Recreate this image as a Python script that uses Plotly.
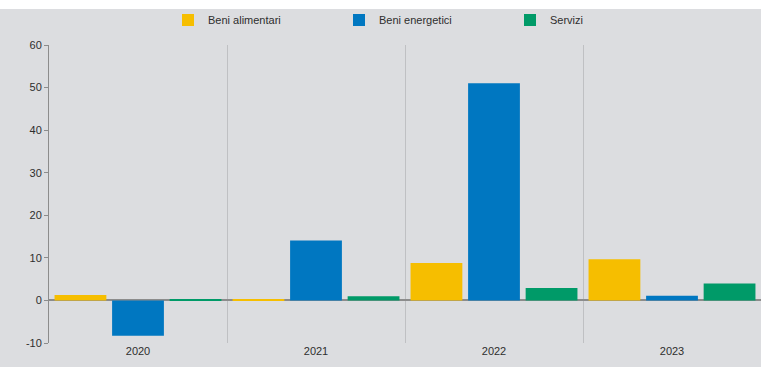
import plotly.graph_objects as go

years = ["2020", "2021", "2022", "2023"]
beni_alimentari = [1.3, 0.3, 8.8, 9.7]
beni_energetici = [-8.3, 14.1, 51.0, 1.1]
servizi = [0.2, 1.0, 2.9, 4.0]
y_ticks = [-10, 0, 10, 20, 30, 40, 50, 60]
y_tick_labels = ["-10", "0", "10", "20", "30", "40", "50", "60"]

series = [
    ("Beni alimentari", beni_alimentari, "#F6BE00"),
    ("Beni energetici", beni_energetici, "#0077C1"),
    ("Servizi", servizi, "#009A68"),
]

W, H = 761, 367
fig = go.Figure()
for name, vals, col in series:
    fig.add_trace(go.Bar(x=years, y=vals, name=name, marker=dict(color=col, line=dict(width=0))))

bg = "#DCDDE0"
fig.update_layout(
    width=W, height=H,
    margin=dict(l=49, r=0, t=45, b=24),
    paper_bgcolor=bg, plot_bgcolor=bg,
    font=dict(family="Liberation Sans, Arial, sans-serif", size=11, color="#2E2E2E"),
    barmode="group", bargap=0.03, bargroupgap=0.1,
    showlegend=True,
    legend=dict(orientation="h", xref="container", yref="container",
                x=168 / W, y=1 - 20 / H, xanchor="left", yanchor="middle",
                entrywidth=126, entrywidthmode="pixels", itemwidth=30,
                bgcolor="rgba(0,0,0,0)", font=dict(size=11, color="#2E2E2E"),
                traceorder="normal"),
    shapes=[dict(type="rect", xref="paper", yref="paper", x0=-0.1, x1=1.1,
                 y0=1 + 36 / 298, y1=1.2, fillcolor="white", line=dict(width=0), layer="below")],
)
fig.update_xaxes(type="category", tickson="boundaries", showgrid=True, gridcolor="#BFC0C3",
                 gridwidth=1, ticks="", showline=False, zeroline=False,
                 tickfont=dict(size=11, color="#2E2E2E"))
fig.update_yaxes(range=[-10, 60], tickvals=y_ticks, ticktext=y_tick_labels, showgrid=False,
                 showline=True, linecolor="#8C8C8C", linewidth=1, ticks="outside", ticklen=4,
                 tickcolor="#8C8C8C", zeroline=True, zerolinecolor="#8C8C8C", zerolinewidth=2,
                 tickfont=dict(size=11, color="#2E2E2E"))

fig.write_html("out.html", config={"displayModeBar": False},
               post_script="document.body.style.margin='0';")
